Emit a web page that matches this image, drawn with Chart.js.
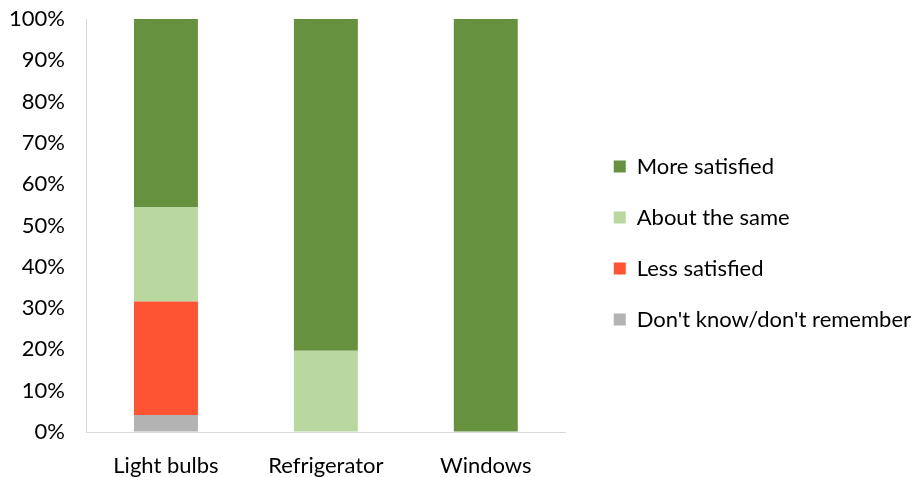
<!DOCTYPE html>
<html>
<head>
<meta charset="utf-8">
<script src="https://cdn.jsdelivr.net/npm/chart.js@4"></script>
<style>
  html, body { margin: 0; padding: 0; background: #fff; }
  #wrap { width: 917px; height: 477px; }
</style>
</head>
<body>
<div id="wrap"><canvas id="chart"></canvas></div>
<script>
// Data (percent of respondents)
const categories = ['Light bulbs', 'Refrigerator', 'Windows'];
const dontKnow = [4.1, 0, 0];
const lessSatisfied = [27.5, 0, 0];
const aboutSame = [22.9, 19.7, 0];
const moreSatisfied = [45.5, 80.3, 100];
const yTicks = [0, 10, 20, 30, 40, 50, 60, 70, 80, 90, 100];

const FONT = 'Lato, "Open Sans", sans-serif';

// move the legend a bit right/up so it sits where the original one is
const legendShift = {
  id: 'legendShift',
  afterLayout(chart) {
    const lg = chart.legend;
    lg.left += 19;
    lg.right += 19;
    lg.top -= 5;
    lg.bottom -= 5;
  }
};

new Chart(document.getElementById('chart'), {
  type: 'bar',
  data: {
    labels: categories,
    datasets: [
      { label: "Don't know/don't remember", data: dontKnow, backgroundColor: '#b3b3b3' },
      { label: 'Less satisfied', data: lessSatisfied, backgroundColor: '#ff5434' },
      { label: 'About the same', data: aboutSame, backgroundColor: '#b8d8a0' },
      { label: 'More satisfied', data: moreSatisfied, backgroundColor: '#66923f' }
    ]
  },
  options: {
    responsive: true,
    maintainAspectRatio: false,
    animation: false,
    layout: { padding: { top: 19, right: 15, left: 0, bottom: 0 } },
    datasets: {
      bar: { categoryPercentage: 0.4, barPercentage: 1.0 }
    },
    scales: {
      x: {
        stacked: true,
        afterFit(scale) { scale.height = 45; },
        grid: { display: false, drawTicks: false },
        border: { color: '#d9d9d9', width: 1 },
        ticks: { color: '#000', font: { family: FONT, size: 22 }, padding: 21 }
      },
      y: {
        stacked: true,
        min: 0,
        max: 100,
        afterBuildTicks(scale) { scale.ticks = yTicks.map(v => ({ value: v })); },
        afterFit(scale) { scale.width = 86; },
        // invisible tick marks just push the labels away from the axis
        grid: { display: true, color: 'transparent', drawOnChartArea: false, drawTicks: true, tickLength: 20 },
        border: { color: '#d9d9d9', width: 1 },
        ticks: {
          color: '#000',
          font: { family: FONT, size: 22 },
          padding: 1,
          callback: v => v + '%'
        }
      }
    },
    plugins: {
      tooltip: { enabled: false },
      legend: {
        position: 'right',
        reverse: true,
        maxWidth: 400,
        labels: {
          color: '#000',
          font: { family: FONT, size: 22 },
          boxWidth: 12,
          boxHeight: 12,
          padding: 29
        }
      }
    }
  },
  plugins: [legendShift]
});
</script>
</body>
</html>
